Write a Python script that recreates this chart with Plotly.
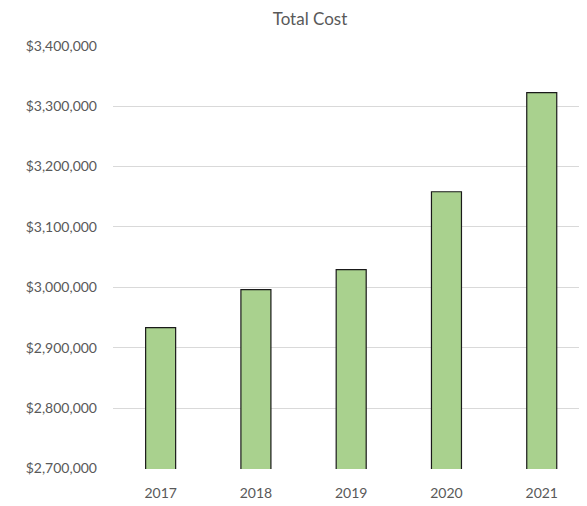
import plotly.graph_objects as go

years = ["2017", "2018", "2019", "2020", "2021"]
total_cost = [2933000, 2996000, 3029000, 3158000, 3322000]
y_ticks = [2700000, 2800000, 2900000, 3000000, 3100000, 3200000, 3300000, 3400000]
y_tick_labels = ["${:,.0f}".format(v) for v in y_ticks]

fig = go.Figure(go.Bar(
    x=years, y=total_cost,
    marker=dict(color="#A9D18E", line=dict(color="#1a1a1a", width=1.2)),
))

# page body has an 8px margin, so the figure is sized to fill the rest of the window
fig.update_layout(
    width=579, height=498,
    margin=dict(l=105, r=0, t=37, b=37, autoexpand=False),
    paper_bgcolor="white", plot_bgcolor="white",
    bargap=0.685,
    showlegend=False,
    font=dict(family="Lato, Open Sans, sans-serif", color="#595959", size=14),
    title=dict(text="Total Cost", x=0.5216, xref="container", xanchor="center",
               y=0.978, yref="container", yanchor="middle",
               font=dict(size=17, color="#595959")),
)
fig.update_xaxes(type="category", range=[-0.5, 4.475], showgrid=False,
                 showline=False, ticks="", automargin=False, ticklabelstandoff=14,
                 tickfont=dict(size=14, color="#595959"))
fig.update_yaxes(range=[2699000, 3401000], tickvals=y_ticks, ticktext=y_tick_labels,
                 showgrid=True, gridcolor="#D9D9D9", gridwidth=1,
                 zeroline=False, showline=False, ticks="", automargin=False,
                 ticklabelstandoff=15,
                 tickfont=dict(size=14, color="#595959"))
fig.write_html("out.html")
